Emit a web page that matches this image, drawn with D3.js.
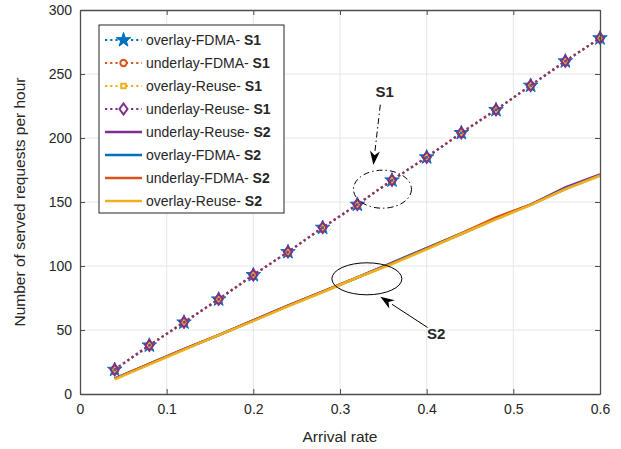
<!DOCTYPE html>
<html>
<head>
<meta charset="utf-8">
<script src="https://cdn.jsdelivr.net/npm/d3@7"></script>
<style>
body { margin:0; background:#fff; }
svg { font-family: "Liberation Sans", Arial, Helvetica, sans-serif; }
</style>
</head>
<body>
<svg id="chart"></svg>
<script>
let width = 621
let height = 449
let margin = {left: 80, right: 21, top: 10, bottom: 55}

let rates = [0.04,0.08,0.12,0.16,0.2,0.24,0.28,0.32,0.36,0.4,0.44,0.48,0.52,0.56,0.6]

let ovFdmaS1  = [19,38,56,74,93,111,130,148,167,185,204,222,241,260,278]
let unFdmaS1  = [19,38,56,74,93,111,130,148,167,185,204,222,241,260,278]
let ovReuseS1 = [19,38,56,74,93,111,130,148,167,185,204,222,241,260,278]
let unReuseS1 = [19,38,56,74,93,111,130,148,167,185,204,222,241,260,278]

let unReuseS2 = [12,23.5,35,46,57.5,69,80,91,102.5,114,125,137,148,161.5,171.5]
let ovFdmaS2  = [12,23.5,35,46,57.5,69,80,91,102.5,114,125.5,137,148,160.5,171]
let unFdmaS2  = [12,23.5,35,46,57.5,69,80,91,102,113.5,125.5,138,148,160,171]
let ovReuseS2 = [11.5,23,34.5,46,57,68.5,79.5,91,101.5,113,125,136.5,147.5,160,170.5]

let xTicks = [0,0.1,0.2,0.3,0.4,0.5,0.6]
let yTicks = [0,50,100,150,200,250,300]

let colors = {blue:'#0072BD', orange:'#D95319', yellow:'#EDB120', purple:'#7E2F8E'}

let series = [
  {name:'overlay-FDMA- ', tag:'S1', values:ovFdmaS1, color:colors.blue, marker:'star', dotted:true},
  {name:'underlay-FDMA- ', tag:'S1', values:unFdmaS1, color:colors.orange, marker:'circle', dotted:true},
  {name:'overlay-Reuse- ', tag:'S1', values:ovReuseS1, color:colors.yellow, marker:'square', dotted:true},
  {name:'underlay-Reuse- ', tag:'S1', values:unReuseS1, color:colors.purple, marker:'diamond', dotted:true},
  {name:'underlay-Reuse- ', tag:'S2', values:unReuseS2, color:colors.purple, marker:null, dotted:false},
  {name:'overlay-FDMA- ', tag:'S2', values:ovFdmaS2, color:colors.blue, marker:null, dotted:false},
  {name:'underlay-FDMA- ', tag:'S2', values:unFdmaS2, color:colors.orange, marker:null, dotted:false},
  {name:'overlay-Reuse- ', tag:'S2', values:ovReuseS2, color:colors.yellow, marker:null, dotted:false}
]

let svg = d3.select('#chart').attr('width', width).attr('height', height)

let xscale = d3.scaleLinear().domain([0,0.6]).range([margin.left, width - margin.right])
let yscale = d3.scaleLinear().domain([0,300]).range([height - margin.bottom, margin.top])

let plotH = height - margin.bottom - margin.top

// grid
svg.append('g').selectAll('line').data(xTicks.slice(1,-1)).enter().append('line')
  .attr('x1', d => xscale(d)).attr('x2', d => xscale(d))
  .attr('y1', margin.top).attr('y2', height - margin.bottom)
  .attr('stroke', '#e6e6e6').attr('stroke-width', 1)
svg.append('g').selectAll('line').data(yTicks.slice(1,-1)).enter().append('line')
  .attr('y1', d => yscale(d)).attr('y2', d => yscale(d))
  .attr('x1', margin.left).attr('x2', width - margin.right)
  .attr('stroke', '#e6e6e6').attr('stroke-width', 1)

let markerPath = (type) => {
  if (type == 'star') return d3.symbol().type(d3.symbolStar).size(65)()
  if (type == 'circle') return d3.symbol().type(d3.symbolCircle).size(32)()
  if (type == 'square') return d3.symbol().type(d3.symbolSquare).size(20)()
  if (type == 'diamond') return 'M0,-5.5L4,0L0,5.5L-4,0Z'
  return null
}

let line = (vals) => d3.line().x((d,i) => xscale(rates[i])).y(d => yscale(d))(vals)

let drawSeries = (s) => {
  svg.append('path')
    .attr('d', line(s.values))
    .attr('fill', 'none')
    .attr('stroke', s.color)
    .attr('stroke-width', s.dotted ? 2.2 : 2.5)
    .attr('stroke-dasharray', s.dotted ? '2.2,3' : null)
  if (s.marker) {
    svg.append('g').selectAll('path').data(s.values).enter().append('path')
      .attr('d', markerPath(s.marker))
      .attr('transform', (d,i) => 'translate(' + xscale(rates[i]) + ',' + yscale(d) + ')')
      .attr('fill', s.marker == 'star' ? s.color : 'none')
      .attr('stroke', s.color)
      .attr('stroke-width', s.marker == 'star' ? 1 : 2)
  }
}
series.forEach(drawSeries)

// axes box
let xAxis = d3.axisBottom(xscale).tickValues(xTicks).tickSizeInner(-5).tickSizeOuter(0).tickPadding(10).tickFormat(d3.format('~g'))
let yAxis = d3.axisLeft(yscale).tickValues(yTicks).tickSizeInner(-5).tickSizeOuter(0).tickPadding(8)
svg.append('g').attr('transform', 'translate(0,' + (height - margin.bottom) + ')').call(xAxis)
svg.append('g').attr('transform', 'translate(' + margin.left + ',0)').call(yAxis)
svg.append('g').attr('transform', 'translate(0,' + margin.top + ')')
  .call(d3.axisTop(xscale).tickValues(xTicks).tickSizeInner(-5).tickSizeOuter(0).tickFormat(''))
svg.append('g').attr('transform', 'translate(' + (width - margin.right) + ',0)')
  .call(d3.axisRight(yscale).tickValues(yTicks).tickSizeInner(-5).tickSizeOuter(0).tickFormat(''))
svg.selectAll('.domain').attr('stroke', '#4d4d4d').attr('stroke-width', 1.3)
svg.selectAll('.tick line').attr('stroke', '#4d4d4d')
svg.selectAll('.tick text').attr('font-size', 14).attr('fill', '#262626')
  .attr('font-family', '"Liberation Sans", Arial, sans-serif')

svg.append('text').attr('x', (xscale(0) + xscale(0.6)) / 2).attr('y', 442)
  .attr('text-anchor', 'middle').attr('font-size', 15.5).attr('fill', '#262626').text('Arrival rate')
svg.append('text').attr('transform', 'translate(25,' + (margin.top + plotH / 2) + ') rotate(-90)')
  .attr('text-anchor', 'middle').attr('font-size', 15.5).attr('fill', '#262626').text('Number of served requests per hour')

// annotations (data coords)
let s1Ell = {x:0.349, y:160, rx:29, ry:19}
let s2Ell = {x:0.331, y:90, rx:35, ry:16}

svg.append('ellipse').attr('cx', xscale(s1Ell.x)).attr('cy', yscale(s1Ell.y))
  .attr('rx', s1Ell.rx).attr('ry', s1Ell.ry)
  .attr('fill', 'none').attr('stroke', '#000').attr('stroke-width', 1).attr('stroke-dasharray', '6,3,1.5,3')
svg.append('ellipse').attr('cx', xscale(s2Ell.x)).attr('cy', yscale(s2Ell.y))
  .attr('rx', s2Ell.rx).attr('ry', s2Ell.ry)
  .attr('fill', 'none').attr('stroke', '#000').attr('stroke-width', 1)

let arrow = (x1, y1, x2, y2, dash) => {
  let a = Math.atan2(y2 - y1, x2 - x1)
  let len = 14, w = 5
  let bx = x2 - len * Math.cos(a), by = y2 - len * Math.sin(a)
  svg.append('line').attr('x1', x1).attr('y1', y1).attr('x2', bx).attr('y2', by)
    .attr('stroke', '#000').attr('stroke-width', 1).attr('stroke-dasharray', dash)
  let px = -Math.sin(a) * w, py = Math.cos(a) * w
  let mx = x2 - len * 0.7 * Math.cos(a), my = y2 - len * 0.7 * Math.sin(a)
  svg.append('path')
    .attr('d', 'M' + x2 + ',' + y2 + 'L' + (bx + px) + ',' + (by + py) + 'L' + mx + ',' + my + 'L' + (bx - px) + ',' + (by - py) + 'Z')
    .attr('fill', '#000')
}
arrow(xscale(0.3465), yscale(226), xscale(0.3385), yscale(179), '6,3,1.5,3')
arrow(xscale(0.401), yscale(52), xscale(0.3465), yscale(76), null)

svg.append('text').attr('x', xscale(0.3515)).attr('y', yscale(232)).attr('text-anchor', 'middle')
  .attr('font-size', 15).attr('font-weight', 'bold').attr('fill', '#262626').text('S1')
svg.append('text').attr('x', xscale(0.411)).attr('y', yscale(43)).attr('text-anchor', 'middle')
  .attr('font-size', 15).attr('font-weight', 'bold').attr('fill', '#262626').text('S2')

// legend
let lg = svg.append('g').attr('transform', 'translate(99,25)')
lg.append('rect').attr('width', 185).attr('height', 188).attr('fill', '#fff')
  .attr('stroke', '#262626').attr('stroke-width', 1)
series.forEach((s, i) => {
  let y = 15 + i * 23
  lg.append('line').attr('x1', 6).attr('x2', 43).attr('y1', y).attr('y2', y)
    .attr('stroke', s.color).attr('stroke-width', s.dotted ? 2.2 : 2.5)
    .attr('stroke-dasharray', s.dotted ? '2.2,3' : null)
  if (s.marker) {
    lg.append('path').attr('d', markerPath(s.marker))
      .attr('transform', 'translate(24.5,' + y + ')')
      .attr('fill', s.marker == 'star' ? s.color : '#fff')
      .attr('stroke', s.color).attr('stroke-width', s.marker == 'star' ? 1 : 2)
  }
  let t = lg.append('text').attr('x', 47).attr('y', y + 5).attr('font-size', 14).attr('fill', '#262626')
  t.append('tspan').text(s.name)
  t.append('tspan').attr('font-weight', 'bold').text(s.tag)
})
</script>
</body>
</html>
